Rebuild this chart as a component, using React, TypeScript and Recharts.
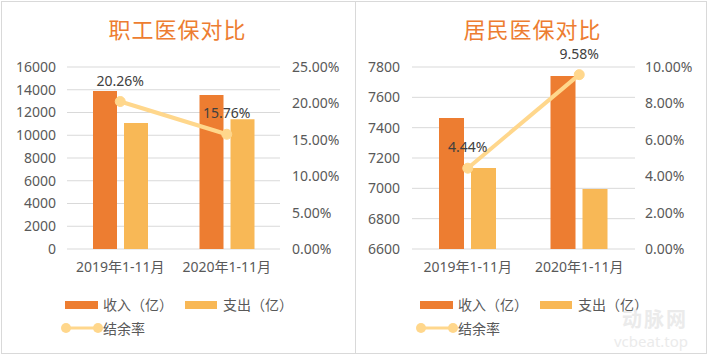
import {
  Bar,
  CartesianGrid,
  ComposedChart,
  LabelList,
  Line,
  XAxis,
  YAxis,
} from "recharts";

const categories = ["2019年1-11月", "2020年1-11月"];

const staffIncome = [13900, 13540];
const staffSpend = [11080, 11400];
const staffRate = [0.2026, 0.1576];

const residentIncome = [7464, 7741];
const residentSpend = [7134, 6996];
const residentRate = [0.0444, 0.0958];

const staffTicks = [0, 2000, 4000, 6000, 8000, 10000, 12000, 14000, 16000];
const staffRateTicks = [0, 0.05, 0.1, 0.15, 0.2, 0.25];
const residentTicks = [6600, 6800, 7000, 7200, 7400, 7600, 7800];
const residentRateTicks = [0, 0.02, 0.04, 0.06, 0.08, 0.1];

const INCOME = "#ED7D31";
const SPEND = "#F8B856";
const RATE = "#FFD78C";
const TEXT = "#595959";
const GRID = "#D9D9D9";
const FONT = '"Noto Sans", "Noto Sans CJK SC", sans-serif';

const pct = (v: number) => `${(v * 100).toFixed(2)}%`;

function LegendBox() {
  const item = { position: "absolute" as const, fontSize: 14, color: TEXT, lineHeight: "16px", whiteSpace: "nowrap" as const };
  return (
    <div style={{ position: "absolute", left: 61, top: 296, width: 280, height: 44, fontFamily: FONT }}>
      <div style={{ position: "absolute", left: 4, top: 5, width: 33, height: 8, background: INCOME }} />
      <span style={{ ...item, left: 42, top: 1 }}>收入（亿）</span>
      <div style={{ position: "absolute", left: 124, top: 5, width: 32, height: 8, background: SPEND }} />
      <span style={{ ...item, left: 162, top: 1 }}>支出（亿）</span>
      <svg style={{ position: "absolute", left: 0, top: 24 }} width={42} height={14}>
        <line x1={5} y1={8} x2={37} y2={8} stroke={RATE} strokeWidth={3} />
        <circle cx={5} cy={8} r={5} fill={RATE} />
        <circle cx={37} cy={8} r={5} fill={RATE} />
      </svg>
      <span style={{ ...item, left: 42, top: 25 }}>结余率</span>
    </div>
  );
}

interface PanelProps {
  title: string;
  income: number[];
  spend: number[];
  rate: number[];
  ticks: number[];
  rateTicks: number[];
  leftWidth: number;
  barSize: number;
  leftMargin: number;
  rightMargin: number;
}

function Panel({ title, income, spend, rate, ticks, rateTicks, leftWidth, barSize, leftMargin, rightMargin }: PanelProps) {
  const data = categories.map((name, i) => ({
    name,
    income: income[i],
    spend: spend[i],
    rate: rate[i],
  }));
  const tick = { fontSize: 14, fill: TEXT, fontFamily: FONT };
  return (
    <div style={{ position: "relative", width: 355, height: 356 }}>
      <div
        style={{
          position: "absolute",
          left: 0,
          top: 12,
          width: 355,
          textAlign: "center",
          fontSize: 22,
          letterSpacing: 1,
          color: INCOME,
          fontFamily: FONT,
        }}
      >
        {title}
      </div>
      <ComposedChart
        width={355}
        height={356}
        data={data}
        margin={{ top: 67, right: 0, left: 0, bottom: 77 }}
        barGap={7}
        barSize={barSize}
      >
        <CartesianGrid yAxisId="l" vertical={false} stroke={GRID} />
        <XAxis
          dataKey="name"
          axisLine={false}
          tickLine={false}
          tick={tick}
          tickMargin={7}
          height={30}
          interval={0}
        />
        <YAxis
          yAxisId="l"
          width={leftWidth}
          domain={[ticks[0], ticks[ticks.length - 1]]}
          ticks={ticks}
          interval={0}
          axisLine={false}
          tickLine={false}
          tick={tick}
          tickMargin={leftMargin}
        />
        <YAxis
          yAxisId="r"
          orientation="right"
          width={75}
          domain={[rateTicks[0], rateTicks[rateTicks.length - 1]]}
          ticks={rateTicks}
          interval={0}
          tickFormatter={pct}
          axisLine={false}
          tickLine={false}
          tick={tick}
          tickMargin={rightMargin}
        />
        <Bar yAxisId="l" dataKey="income" name="收入（亿）" fill={INCOME} isAnimationActive={false} />
        <Bar yAxisId="l" dataKey="spend" name="支出（亿）" fill={SPEND} isAnimationActive={false} />
        <Line
          yAxisId="r"
          dataKey="rate"
          name="结余率"
          stroke={RATE}
          strokeWidth={4}
          dot={{ r: 5, fill: RATE, stroke: RATE, strokeWidth: 1 }}
          isAnimationActive={false}
        >
          <LabelList
            dataKey="rate"
            position="top"
            offset={16}
            formatter={(v: number) => pct(v)}
            style={{ fontSize: 14, fill: "#404040", fontFamily: FONT }}
          />
        </Line>
      </ComposedChart>
      <LegendBox />
    </div>
  );
}

export default function App() {
  return (
    <div
      style={{
        position: "absolute",
        left: 0,
        top: 0,
        width: 710,
        height: 356,
        background: "#fff",
        overflow: "hidden",
      }}
    >
      <div
        style={{
          position: "absolute",
          left: 1,
          top: 1,
          width: 706,
          height: 353,
          border: `1px solid ${GRID}`,
          boxSizing: "border-box",
        }}
      />
      <div style={{ position: "absolute", left: 355, top: 1, width: 1, height: 353, background: GRID }} />
      <div style={{ position: "absolute", left: 0, top: 0 }}>
        <Panel
          title="职工医保对比"
          income={staffIncome}
          spend={staffSpend}
          rate={staffRate}
          ticks={staffTicks}
          rateTicks={staffRateTicks}
          leftWidth={67}
          barSize={24}
          leftMargin={5}
          rightMargin={6}
        />
      </div>
      <div style={{ position: "absolute", left: 355, top: 0 }}>
        <Panel
          title="居民医保对比"
          income={residentIncome}
          spend={residentSpend}
          rate={residentRate}
          ticks={residentTicks}
          rateTicks={residentRateTicks}
          leftWidth={57}
          barSize={25}
          leftMargin={6}
          rightMargin={4}
        />
      </div>
      <div
        style={{
          position: "absolute",
          left: 622,
          top: 304,
          fontSize: 20,
          fontWeight: 700,
          color: "#EBEBEB",
          fontFamily: FONT,
          letterSpacing: 2,
        }}
      >
        动脉网
      </div>
      <div
        style={{
          position: "absolute",
          left: 614,
          top: 331,
          fontSize: 15,
          color: "#EBEBEB",
          fontFamily: FONT,
        }}
      >
        vcbeat.top
      </div>
    </div>
  );
}
